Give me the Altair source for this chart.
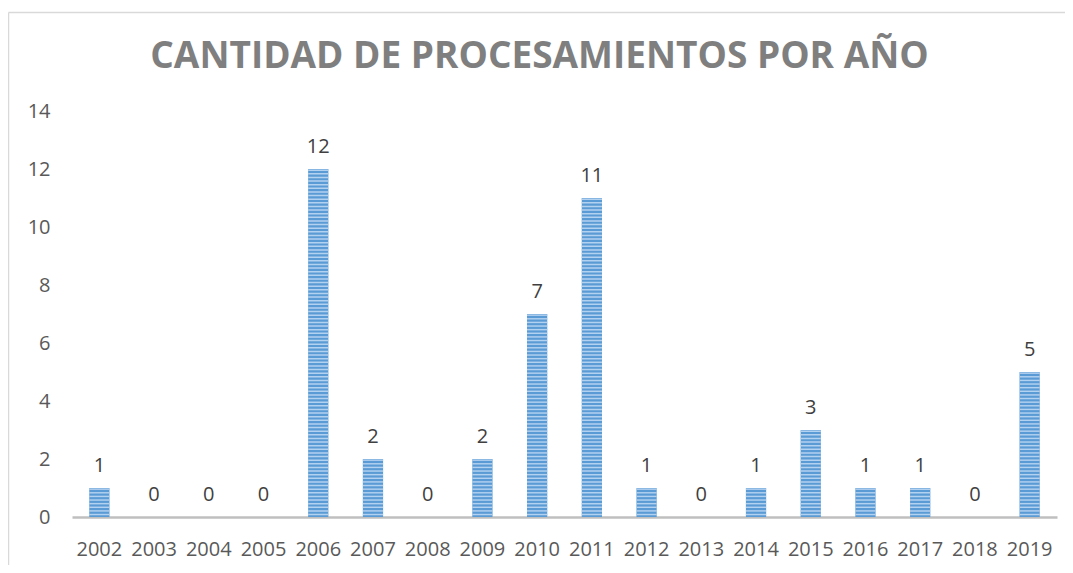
import altair as alt
import pandas as pd

years = ["2002", "2003", "2004", "2005", "2006", "2007", "2008", "2009", "2010",
         "2011", "2012", "2013", "2014", "2015", "2016", "2017", "2018", "2019"]
counts = [1, 0, 0, 0, 12, 2, 0, 2, 7, 11, 1, 0, 1, 3, 1, 1, 0, 5]
y_ticks = [0, 2, 4, 6, 8, 10, 12, 14]
title_text = "CANTIDAD DE PROCESAMIENTOS POR AÑO"

df = pd.DataFrame({"year": years, "value": counts})

FONT = "Open Sans"

x_enc = alt.X("year:N", sort=years, title=None,
              scale=alt.Scale(paddingInner=0.63, paddingOuter=0.315),
              axis=alt.Axis(labelAngle=0, labelFont=FONT, labelFontSize=20,
                            labelColor="#595959", labelPadding=22, ticks=False,
                            tickSize=0, domainColor="#bfbfbf", domainWidth=2.5,
                            grid=False))
y_scale = alt.Scale(domain=[0, 14], nice=False)
y_enc = alt.Y("value:Q", scale=y_scale, title=None,
              axis=alt.Axis(values=y_ticks, labelFont=FONT, labelFontSize=20,
                            labelColor="#595959", labelPadding=22, ticks=False,
                            tickSize=0, domain=False, grid=False))

bars = alt.Chart(df).mark_bar(color="#5b9bd5").encode(x=x_enc, y=y_enc)

stripes = alt.Chart(df).transform_calculate(
    s="sequence(0.06, datum.value, 0.125)"
).transform_flatten(["s"]).transform_calculate(
    s2="datum.s + 0.05"
).mark_bar(color="#b3d1f0").encode(
    x=alt.X("year:N", sort=years),
    y=alt.Y("s:Q", scale=y_scale),
    y2="s2:Q",
)

labels = alt.Chart(df).mark_text(font=FONT, fontSize=20, color="#404040",
                                 baseline="alphabetic", dy=-16).encode(
    x=alt.X("year:N", sort=years), y=alt.Y("value:Q", scale=y_scale),
    text="value:Q")

border_data = alt.Data(values=[{"k": 1}])
top_border = alt.Chart(border_data).mark_rule(color="#d9d9d9", strokeWidth=1.5).encode(
    x=alt.value(-63.5), x2=alt.value(1100), y=alt.value(-98.5))
left_border = alt.Chart(border_data).mark_rule(color="#d9d9d9", strokeWidth=1.5).encode(
    x=alt.value(-63.5), y=alt.value(-98.5), y2=alt.value(600))

chart = alt.layer(top_border, left_border, bars, stripes, labels).properties(
    width=985, height=406,
    padding={"left": 64, "top": 103, "right": 8, "bottom": 48},
    autosize=alt.AutoSizeParams(type="none"),
    title=alt.TitleParams(title_text, anchor="middle", dx=-25, offset=-93,
                          baseline="alphabetic", font=FONT, fontSize=37,
                          fontWeight="bold", color="#7f7f7f"),
).configure_view(stroke=None)

chart.save("out.html", embed_options={"renderer": "svg", "actions": False})
